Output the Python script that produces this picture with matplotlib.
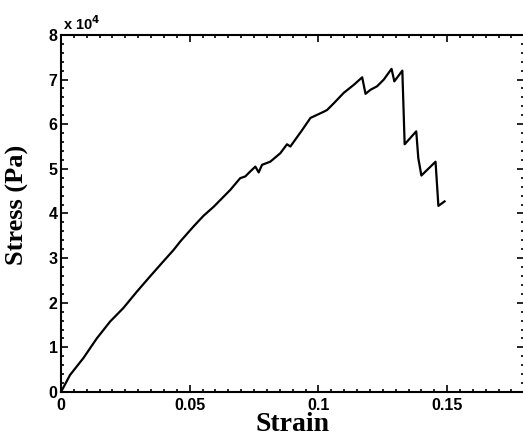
import numpy as np
import matplotlib.pyplot as plt
from matplotlib.ticker import MultipleLocator

# curva tension-deformacion (tension en Pa)
strain = [0, 0.0035, 0.0087, 0.0139, 0.0191, 0.0242, 0.0295, 0.0346, 0.0392,
          0.0437, 0.0463, 0.0515, 0.0554, 0.0593, 0.0658, 0.0696, 0.0716,
          0.0735, 0.0755, 0.0768, 0.0781, 0.0813, 0.0852, 0.0878, 0.0891,
          0.0937, 0.0969, 0.0995, 0.1021, 0.1034, 0.1060, 0.1098, 0.1137,
          0.1170, 0.1183, 0.1202, 0.1228, 0.1254, 0.1284, 0.1295, 0.1326,
          0.1335, 0.1380, 0.1388, 0.1400, 0.1455, 0.1466, 0.1490]
stress = [0, 3800, 7600, 12000, 15800, 18800, 22500, 25900, 28900,
          31800, 33700, 37100, 39500, 41500, 45300, 47900, 48300,
          49400, 50500, 49200, 50900, 51600, 53500, 55500, 55000,
          58700, 61400, 62100, 62800, 63200, 64700, 67000, 68800,
          70500, 66800, 67700, 68500, 70000, 72400, 69600, 72000,
          55500, 58400, 52400, 48500, 51600, 41700, 42700]

fig = plt.figure(figsize=(5.23, 4.36), dpi=100)
ax = fig.add_axes([0.1166, 0.1009, 0.886, 0.819])

ax.plot(strain, np.array(stress) / 1e4, color='black', lw=1.6)

ax.set_xlim(0, 0.18)
ax.set_ylim(0, 8)
ax.xaxis.set_major_locator(MultipleLocator(0.05))
ax.xaxis.set_minor_locator(MultipleLocator(0.005))
ax.yaxis.set_major_locator(MultipleLocator(1))
ax.yaxis.set_minor_locator(MultipleLocator(0.2))
ax.set_xticks([0, 0.05, 0.1, 0.15])
ax.set_xticklabels(['0', '0.05', '0.1', '0.15'])

ax.tick_params(which='both', direction='in', top=True, right=True, width=1.2)
ax.tick_params(which='major', length=5)
ax.tick_params(which='minor', length=2.5)
ax.tick_params(axis='x', pad=4)
ax.tick_params(axis='y', pad=2.5)
for lab in ax.get_xticklabels() + ax.get_yticklabels():
    lab.set_fontfamily('Liberation Sans')
    lab.set_fontweight('bold')
    lab.set_fontsize(11.5)
for sp in ax.spines.values():
    sp.set_linewidth(1.5)

ax.set_xlabel('Strain', fontfamily='Liberation Serif', fontweight='bold',
              fontsize=20)
ax.xaxis.set_label_coords(0.5, -0.055, transform=ax.transAxes)
ax.xaxis.label.set_va('top')
ax.set_ylabel('Stress (Pa)', fontfamily='Liberation Serif', fontweight='bold',
              fontsize=19)
ax.yaxis.set_label_coords(-0.068, 0.525)
ax.text(0.004, 1.004, r'x 10$^{\mathbf{4}}$', transform=ax.transAxes,
        fontfamily='Liberation Sans', fontweight='bold', fontsize=10.5,
        ha='left', va='bottom')

fig.savefig('out.png', dpi=100)
